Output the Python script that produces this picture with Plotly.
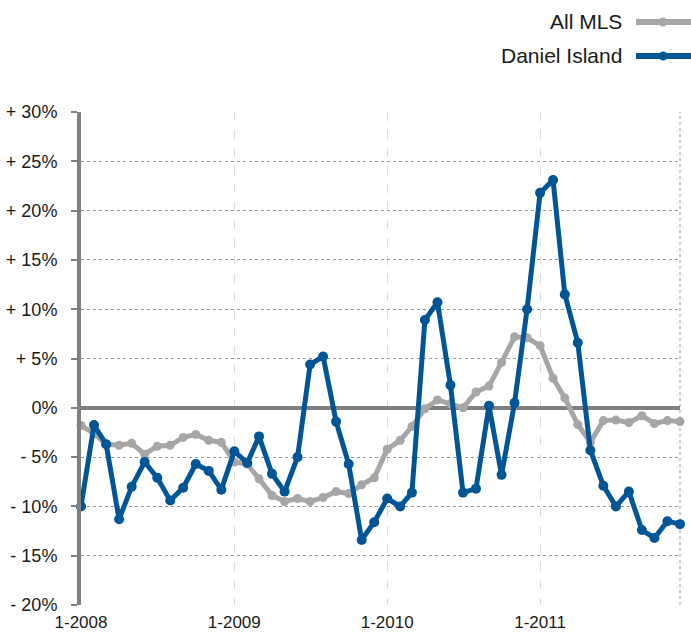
import plotly.graph_objects as go
import pandas as pd

months = pd.date_range("2008-01-01", "2011-12-01", freq="MS").strftime("%Y-%m-%d").tolist()

all_mls = [-1.8, -2.6, -3.7, -3.8, -3.6, -4.7, -3.9, -3.8, -3.0, -2.7, -3.3, -3.5,
           -5.5, -5.7, -7.2, -8.9, -9.5, -9.2, -9.5, -9.1, -8.5, -8.7, -7.8, -7.1,
           -4.2, -3.3, -1.9, -0.1, 0.8, 0.4, 0.0, 1.6, 2.2, 4.6, 7.2, 7.1,
           6.3, 3.0, 1.0, -1.7, -3.5, -1.3, -1.25, -1.5, -0.8, -1.6, -1.3, -1.4]

daniel_island = [-10.0, -1.75, -3.7, -11.3, -8.0, -5.5, -7.1, -9.4, -8.1, -5.7, -6.4, -8.3,
                 -4.4, -5.6, -2.9, -6.7, -8.5, -5.0, 4.4, 5.2, -1.4, -5.7, -13.4, -11.6,
                 -9.2, -10.0, -8.6, 8.9, 10.7, 2.3, -8.6, -8.2, 0.2, -6.8, 0.5, 10.0,
                 21.8, 23.1, 11.5, 6.6, -4.3, -7.9, -10.0, -8.5, -12.4, -13.2, -11.5, -11.8]

x_tick_vals = ["2008-01-01", "2009-01-01", "2010-01-01", "2011-01-01"]
x_tick_text = ["1-2008", "1-2009", "1-2010", "1-2011"]
y_tick_vals = [30, 25, 20, 15, 10, 5, 0, -5, -10, -15, -20]
y_tick_text = ["+ 30%", "+ 25%", "+ 20%", "+ 15%", "+ 10%", "+ 5%", "0%",
               "- 5%", "- 10%", "- 15%", "- 20%"]

series_names = ["All MLS", "Daniel Island"]
series_colors = ["#a6a6a6", "#005596"]

fig = go.Figure()
fig.add_trace(go.Scatter(x=months, y=all_mls, name=series_names[0], mode="lines+markers",
                         line=dict(color=series_colors[0], width=5),
                         marker=dict(size=9, color=series_colors[0]),
                         cliponaxis=False, showlegend=False))
fig.add_trace(go.Scatter(x=months, y=daniel_island, name=series_names[1], mode="lines+markers",
                         line=dict(color=series_colors[1], width=5),
                         marker=dict(size=10, color=series_colors[1]),
                         cliponaxis=False, showlegend=False))

font_family = "Liberation Sans, Arial, sans-serif"

# manual legend (line sample sits to the right of the text)
legend_y = [1.1826, 1.1136]
for name, color, yy in zip(series_names, series_colors, legend_y):
    fig.add_annotation(xref="paper", yref="paper", x=0.907, y=yy, text=name,
                       showarrow=False, xanchor="right", yanchor="middle",
                       font=dict(size=21, color="#1a1a1a", family=font_family))
    fig.add_shape(type="line", xref="paper", yref="paper", x0=0.9265, x1=1.02,
                  y0=yy, y1=yy, line=dict(color=color, width=6))
    fig.add_shape(type="circle", xref="paper", yref="paper", xsizemode="pixel",
                  ysizemode="pixel", xanchor=0.9716, yanchor=yy, x0=-4.5, x1=4.5, y0=-4.5, y1=4.5,
                  fillcolor=color, line=dict(color=color, width=0))

# right edge dotted border
fig.add_shape(type="line", xref="paper", yref="paper", x0=1, x1=1, y0=0, y1=1,
              line=dict(color="#9a9a9a", width=1, dash="dot"), layer="below")

fig.update_layout(
    width=691, height=636,
    margin=dict(l=81, r=11, t=112, b=31),
    plot_bgcolor="white", paper_bgcolor="white",
    font=dict(family=font_family, size=18, color="#1a1a1a"),
    showlegend=False,
)
fig.update_xaxes(range=[months[0], months[-1]], tickvals=x_tick_vals, ticktext=x_tick_text,
                 showgrid=True, gridcolor="#dcdcdc", gridwidth=1, griddash="dash",
                 showline=False, zeroline=False, ticks="", ticklabelstandoff=5,
                 automargin=False, tickfont=dict(size=17))
fig.update_yaxes(range=[-20, 30], tickvals=y_tick_vals, ticktext=y_tick_text,
                 showgrid=True, gridcolor="#9a9a9a", gridwidth=1, griddash="dot",
                 showline=True, linecolor="#808080", linewidth=4,
                 zeroline=True, zerolinecolor="#808080", zerolinewidth=4,
                 ticks="outside", ticklen=6, tickwidth=2, tickcolor="#808080",
                 ticklabelstandoff=10, automargin=False, tickfont=dict(size=18))

fig.write_html("out.html", config={"displayModeBar": False},
               post_script="document.body.style.margin='0';")
